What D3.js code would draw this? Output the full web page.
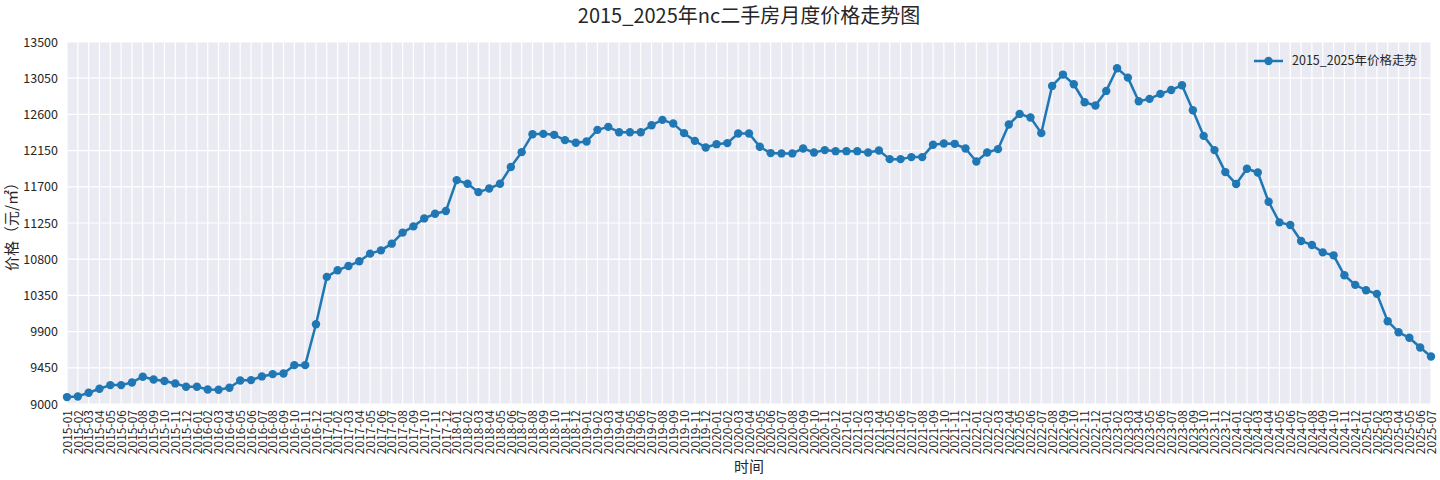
<!DOCTYPE html>
<html>
<head>
<meta charset="utf-8">
<script src="https://cdn.jsdelivr.net/npm/d3@7"></script>
<style>
  body { margin: 0; background: #fff; }
  text { font-family: "Noto Sans CJK SC", "DejaVu Sans", sans-serif; fill: #262626; }
</style>
</head>
<body>
<div id="chart"></div>
<script>
// months 2015-01 .. 2025-07
const months = []
for (let y = 2015; y <= 2025; y++) {
  for (let m = 1; m <= 12; m++) {
    if (y === 2025 && m > 7) break
    months.push(`${y}-${String(m).padStart(2, "0")}`)
  }
}

// one per month
const prices = [
  9086, 9094, 9140, 9190, 9235, 9235, 9268, 9339, 9305, 9285, 9256, 9215,
  9215, 9181, 9178, 9202, 9293, 9297, 9343, 9371, 9380, 9483, 9483, 9992,
  10580, 10662, 10716, 10774, 10869, 10910, 10993, 11130, 11208, 11307, 11365, 11399,
  11783, 11738, 11634, 11678, 11738, 11947, 12131, 12354, 12358, 12346, 12280, 12247,
  12263, 12408, 12445, 12379, 12379, 12379, 12466, 12532, 12486, 12367, 12271, 12189,
  12230, 12243, 12362, 12362, 12197, 12119, 12115, 12115, 12176, 12127, 12156, 12143,
  12143, 12143, 12127, 12151, 12044, 12044, 12069, 12069, 12222, 12238, 12234, 12176,
  12015, 12127, 12168, 12474, 12606, 12561, 12367, 12954, 13095, 12975, 12751, 12710,
  12892, 13173, 13057, 12764, 12793, 12855, 12904, 12962, 12652, 12333, 12156, 11883,
  11734, 11924, 11878, 11514, 11258, 11225, 11027, 10977, 10885, 10848, 10600, 10481,
  10414, 10369, 10029, 9892, 9823, 9703, 9591
]

const yTicks = [9000, 9450, 9900, 10350, 10800, 11250, 11700, 12150, 12600, 13050, 13500]

const titleText = "2015_2025年nc二手房月度价格走势图"
const seriesName = "2015_2025年价格走势"

const width = 1440, height = 480
const margin = {top: 42, right: 9, bottom: 76, left: 67}

const svg = d3.select("#chart").append("svg")
  .attr("width", width)
  .attr("height", height)

const x = d3.scalePoint()
  .domain(months)
  .range([margin.left, width - margin.right])

const y = d3.scaleLinear()
  .domain([9000, 13500])
  .range([height - margin.bottom, margin.top])

// plot background
svg.append("rect")
  .attr("x", margin.left)
  .attr("y", margin.top)
  .attr("width", width - margin.left - margin.right)
  .attr("height", height - margin.top - margin.bottom)
  .attr("fill", "#eaeaf2")

// grid
svg.append("g")
  .selectAll("line")
  .data(months)
  .join("line")
    .attr("x1", d => x(d)).attr("x2", d => x(d))
    .attr("y1", margin.top).attr("y2", height - margin.bottom)
    .attr("stroke", "#fff")
    .attr("stroke-width", 1.2)

svg.append("g")
  .selectAll("line")
  .data(yTicks)
  .join("line")
    .attr("x1", margin.left).attr("x2", width - margin.right)
    .attr("y1", d => y(d)).attr("y2", d => y(d))
    .attr("stroke", "#fff")
    .attr("stroke-width", 1.2)

// axes
const xAxis = svg.append("g")
  .attr("transform", `translate(0,${height - margin.bottom})`)
  .call(d3.axisBottom(x).tickSize(0).tickPadding(0))
xAxis.select(".domain").remove()
xAxis.selectAll("text")
  .attr("transform", "rotate(-90)")
  .attr("text-anchor", "end")
  .attr("x", -6)
  .attr("y", 0)
  .attr("dy", "0.35em")
  .attr("font-size", 12)

const yAxis = svg.append("g")
  .attr("transform", `translate(${margin.left},0)`)
  .call(d3.axisLeft(y).tickValues(yTicks).tickSize(0).tickPadding(9).tickFormat(d3.format("d")))
yAxis.select(".domain").remove()
yAxis.selectAll("text").attr("font-size", 12.5)

// line + markers
const data = months.map((m, i) => ({month: m, price: prices[i]}))

const plot = svg.append("g")

plot.append("path")
  .datum(data)
  .attr("fill", "none")
  .attr("stroke", "#1f77b4")
  .attr("stroke-width", 2.5)
  .attr("stroke-linejoin", "round")
  .attr("d", d3.line().x(d => x(d.month)).y(d => y(d.price)))

plot.selectAll("circle")
  .data(data)
  .join("circle")
    .attr("cx", d => x(d.month))
    .attr("cy", d => y(d.price))
    .attr("r", 4.2)
    .attr("fill", "#1f77b4")

// titles
const cx = (margin.left + width - margin.right) / 2
svg.append("text")
  .attr("x", cx).attr("y", 23)
  .attr("text-anchor", "middle")
  .attr("font-size", 20)
  .text(titleText)

svg.append("text")
  .attr("x", cx).attr("y", 472)
  .attr("text-anchor", "middle")
  .attr("font-size", 15)
  .text("时间")

svg.append("text")
  .attr("transform", `translate(17,${(margin.top + height - margin.bottom) / 2}) rotate(-90)`)
  .attr("text-anchor", "middle")
  .attr("font-size", 15)
  .text("价格（元/㎡）")

// legend
const lg = svg.append("g").attr("transform", "translate(1254,61)")
lg.append("line").attr("x1", 0).attr("x2", 29).attr("stroke", "#1f77b4").attr("stroke-width", 2.5)
lg.append("circle").attr("cx", 14.5).attr("r", 4.2).attr("fill", "#1f77b4")
lg.append("text").attr("x", 38).attr("dy", "0.35em").attr("font-size", 12.5).text(seriesName)
</script>
</body>
</html>
